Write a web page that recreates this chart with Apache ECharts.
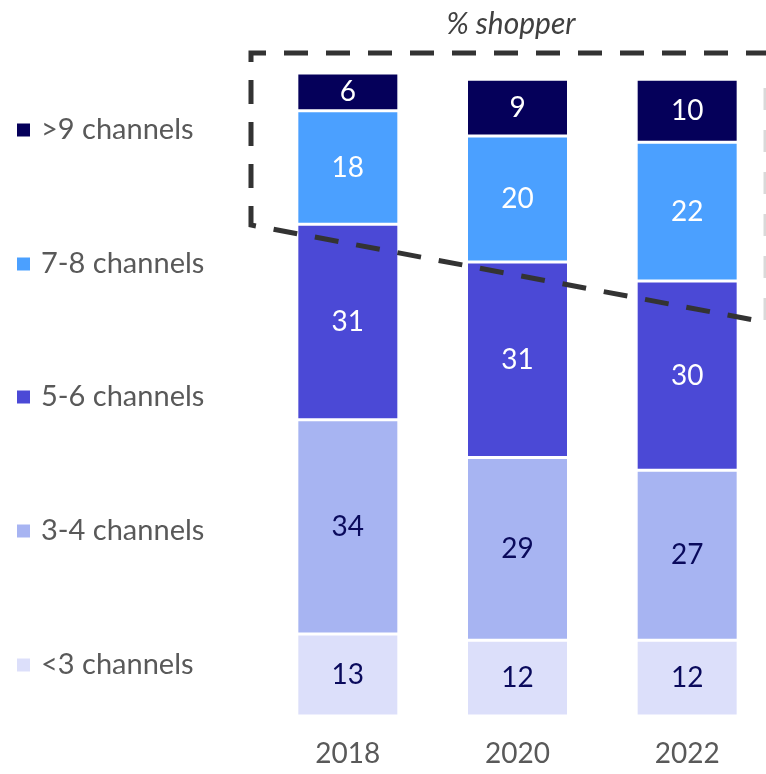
<!DOCTYPE html>
<html>
<head>
<meta charset="utf-8">
<script src="https://cdn.jsdelivr.net/npm/echarts@6/dist/echarts.min.js"></script>
<style>
  html, body { margin: 0; padding: 0; background: #ffffff; }
  #chart { width: 766px; height: 774px; }
</style>
</head>
<body>
<div id="chart"></div>
<script>
// Share of shoppers by number of channels used, stacked per survey year
const years = ['2018', '2020', '2022'];
const lt3 = [13, 12, 12];
const ch34 = [34, 29, 27];
const ch56 = [31, 31, 30];
const ch78 = [18, 20, 22];
const gt9 = [6, 9, 10];

const seriesNames = ['<3 channels', '3-4 channels', '5-6 channels', '7-8 channels', '>9 channels'];
const seriesData = [lt3, ch34, ch56, ch78, gt9];
const seriesColors = ['#DCDFFA', '#A7B4F2', '#4B49D6', '#4BA0FF', '#05005A'];
const labelColors = ['#0A0A5C', '#0A0A5C', '#FFFFFF', '#FFFFFF', '#FFFFFF'];

const FONT = 'Lato, "Open Sans", sans-serif';

const chart = echarts.init(document.getElementById('chart'), null, { renderer: 'canvas' });

const series = seriesNames.map((name, i) => ({
  name: name,
  type: 'bar',
  stack: 'total',
  barWidth: 102,
  data: seriesData[i],
  itemStyle: { color: seriesColors[i], borderColor: '#FFFFFF', borderWidth: 1.5 },
  label: {
    show: true,
    position: 'inside',
    color: labelColors[i],
    fontFamily: FONT,
    fontSize: 28
  }
}));

// one legend block per entry, listed top-down from >9 to <3
const legendCenters = [130, 264, 397, 531, 665];
const legends = seriesNames.slice().reverse().map((name, k) => ({
  orient: 'vertical',
  left: 15,
  top: legendCenters[k] - 15,
  itemWidth: 15,
  itemHeight: 15,
  icon: 'rect',
  padding: 0,
  data: [name],
  textStyle: { fontFamily: FONT, fontSize: 29, lineHeight: 30, color: '#595959', padding: [0, 0, 0, 5] },
  selectedMode: false
}));

chart.setOption({
  animation: false,
  backgroundColor: '#FFFFFF',
  title: {
    text: '% shopper',
    left: 506,
    top: 4,
    textAlign: 'center',
    textStyle: { fontFamily: FONT, fontStyle: 'italic', fontWeight: 'normal', fontSize: 30, color: '#404040' }
  },
  legend: legends,
  grid: { left: 263, width: 509, top: 73, bottom: 58, outerBoundsMode: 'none', containLabel: false },
  xAxis: {
    type: 'category',
    data: years,
    axisLine: { show: false },
    axisTick: { show: false },
    axisLabel: { fontFamily: FONT, fontSize: 28, color: '#595959', margin: 24 }
  },
  yAxis: {
    type: 'value',
    min: 0,
    max: 102,
    show: false,
    splitLine: { show: false }
  },
  graphic: [
    {
      // dashed call-out frame around the upper channel groups
      type: 'polyline',
      z: 100,
      shape: { points: [[770, 53], [251, 53], [251, 225], [770, 323]] },
      style: { fill: null, stroke: '#333333', lineWidth: 5, lineDash: [24, 18] }
    },
    {
      type: 'line',
      z: 99,
      shape: { x1: 765, y1: 88, x2: 765, y2: 326 },
      style: { stroke: '#D9D9D9', lineWidth: 3, lineDash: [22, 20] }
    }
  ],
  series: series
});
</script>
</body>
</html>
